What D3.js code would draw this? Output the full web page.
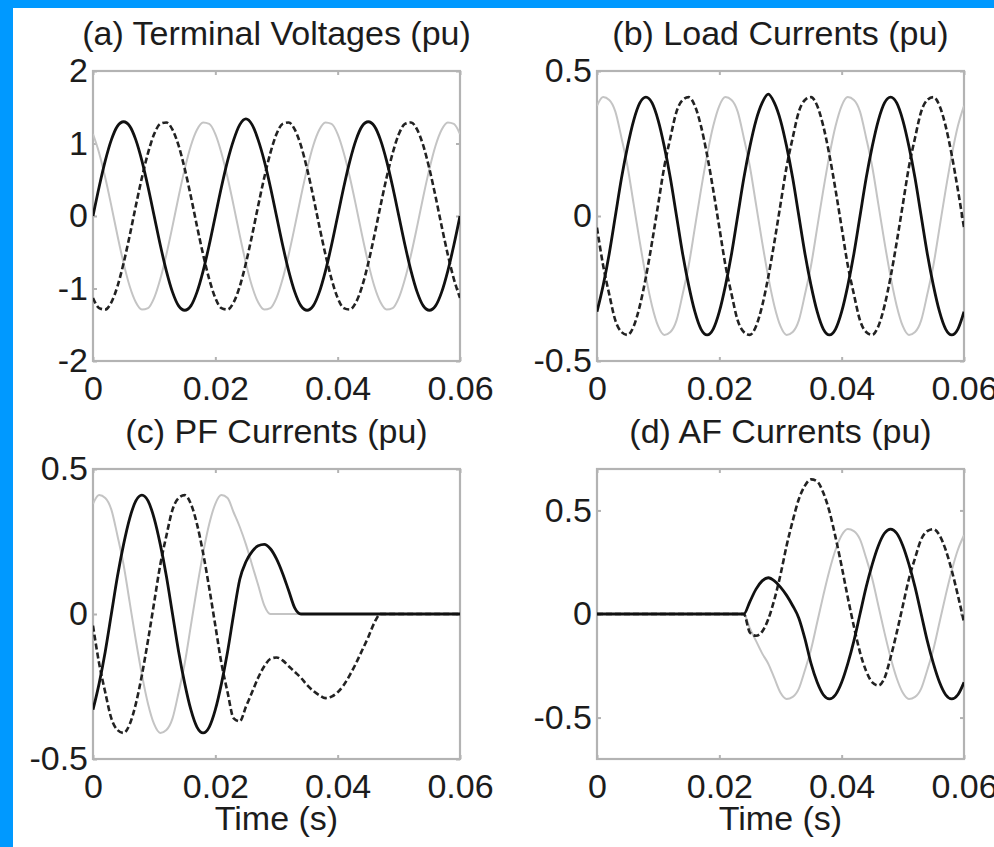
<!DOCTYPE html>
<html>
<head>
<meta charset="utf-8">
<script src="https://cdn.jsdelivr.net/npm/d3@7"></script>
<style>
  html, body { margin: 0; padding: 0; background: #0099ff; }
  svg { display: block; }
  text { font-family: "Liberation Sans", Arial, Helvetica, sans-serif; fill: #1c1c1c; }
</style>
</head>
<body>
<svg id="chart" width="994" height="847"></svg>
<script>
// ---------------- DATA ----------------
// sample times (s): 0 .. 0.06 every 1 ms
const time = d3.range(0, 61).map(i => i / 1000);

const xTicks = [0, 0.02, 0.04, 0.06];
const xTickLabels = ["0", "0.02", "0.04", "0.06"];

const titles = ["(a) Terminal Voltages (pu)", "(b) Load Currents (pu)", "(c) PF Currents (pu)", "(d) AF Currents (pu)"];
const xLabel = "Time (s)";

const yDomainA = [-2, 2];   const yTicksA = [-2, -1, 0, 1, 2];  const yTickLabelsA = ["-2", "-1", "0", "1", "2"];
const yDomainB = [-0.5, 0.5]; const yTicksB = [-0.5, 0, 0.5]; const yTickLabelsB = ["-0.5", "0", "0.5"];
const yDomainC = [-0.5, 0.5]; const yTicksC = [-0.5, 0, 0.5]; const yTickLabelsC = ["-0.5", "0", "0.5"];
const yDomainD = [-0.7, 0.7]; const yTicksD = [-0.5, 0, 0.5]; const yTickLabelsD = ["-0.5", "0", "0.5"];

// (a) terminal voltages
const voltSolid = [0,.40,.76,1.05,1.24,1.3,1.24,1.05,.76,.40,0,-.40,-.76,-1.05,-1.24,-1.3,-1.24,-1.05,-.76,-.40,
  0,.40,.76,1.05,1.26,1.34,1.26,1.05,.76,.40,0,-.40,-.76,-1.05,-1.24,-1.3,-1.24,-1.05,-.76,-.40,
  0,.40,.76,1.05,1.24,1.3,1.24,1.05,.76,.40,0,-.40,-.76,-1.05,-1.24,-1.3,-1.24,-1.05,-.76,-.40,0];
const voltDashed = [-1.13,-1.27,-1.29,-1.19,-.97,-.65,-.27,.14,.53,.87,1.13,1.27,1.29,1.19,.97,.65,.27,-.14,-.53,-.87,
  -1.13,-1.27,-1.29,-1.19,-.97,-.65,-.27,.14,.53,.87,1.13,1.27,1.29,1.19,.97,.65,.27,-.14,-.53,-.87,
  -1.13,-1.27,-1.29,-1.19,-.97,-.65,-.27,.14,.53,.87,1.13,1.27,1.29,1.19,.97,.65,.27,-.14,-.53,-.87,-1.13];
const voltGray = [1.13,.87,.53,.14,-.27,-.65,-.97,-1.19,-1.29,-1.27,-1.13,-.87,-.53,-.14,.27,.65,.97,1.19,1.29,1.27,
  1.13,.87,.53,.14,-.27,-.65,-.97,-1.19,-1.29,-1.27,-1.13,-.87,-.53,-.14,.27,.65,.97,1.19,1.29,1.27,
  1.13,.87,.53,.14,-.27,-.65,-.97,-1.19,-1.29,-1.27,-1.13,-.87,-.53,-.14,.27,.65,.97,1.19,1.29,1.27,1.13];

// (b) load currents
const loadSolid = [-.33,-.24,-.13,0,.13,.24,.33,.39,.41,.39,.33,.24,.13,0,-.13,-.24,-.33,-.39,-.41,-.39,
  -.33,-.24,-.13,0,.13,.24,.33,.39,.42,.39,.33,.24,.13,0,-.13,-.24,-.33,-.39,-.41,-.39,
  -.33,-.24,-.13,0,.13,.24,.33,.39,.41,.39,.33,.24,.13,0,-.13,-.24,-.33,-.39,-.41,-.39,-.33];
const loadDashed = [-.04,-.17,-.27,-.36,-.40,-.41,-.38,-.31,-.21,-.09,.04,.17,.27,.36,.40,.41,.38,.31,.21,.09,
  -.04,-.17,-.27,-.36,-.40,-.41,-.38,-.31,-.21,-.09,.04,.17,.27,.36,.40,.41,.38,.31,.21,.09,
  -.04,-.17,-.27,-.36,-.40,-.41,-.38,-.31,-.21,-.09,.04,.17,.27,.36,.40,.41,.38,.31,.21,.09,-.04];
const loadGray = [.38,.41,.40,.36,.27,.17,.04,-.09,-.21,-.31,-.38,-.41,-.40,-.36,-.27,-.17,-.04,.09,.21,.31,
  .38,.41,.40,.36,.27,.17,.04,-.09,-.21,-.31,-.38,-.41,-.40,-.36,-.27,-.17,-.04,.09,.21,.31,
  .38,.41,.40,.36,.27,.17,.04,-.09,-.21,-.31,-.38,-.41,-.40,-.36,-.27,-.17,-.04,.09,.21,.31,.38];

// (c) PF currents
const pfSolid = [-.33,-.24,-.13,0,.13,.24,.33,.39,.41,.39,.33,.24,.13,0,-.13,-.24,-.33,-.39,-.41,-.39,
  -.33,-.24,-.13,0,.12,.18,.215,.235,.24,.225,.19,.14,.08,.02,
  0,0,0,0,0,0,0,0,0,0,0,0,0,0,0,0,0,0,0,0,0,0,0,0,0,0,0];
const pfDashed = [-.04,-.17,-.27,-.36,-.40,-.41,-.38,-.31,-.21,-.09,.04,.17,.27,.36,.40,.41,.38,.31,.21,.09,
  -.04,-.17,-.27,-.36,-.37,-.32,-.27,-.22,-.18,-.155,-.15,-.16,-.18,-.20,-.22,-.245,-.265,-.28,-.29,-.285,
  -.27,-.245,-.21,-.17,-.125,-.08,-.03,0,
  0,0,0,0,0,0,0,0,0,0,0,0,0];
const pfGray = [.38,.41,.40,.36,.27,.17,.04,-.09,-.21,-.31,-.38,-.41,-.40,-.36,-.27,-.17,-.04,.09,.21,.31,
  .38,.41,.40,.35,.30,.24,.17,.10,.03,
  0,0,0,0,0,0,0,0,0,0,0,0,0,0,0,0,0,0,0,0,0,0,0,0,0,0,0,0,0,0,0,0];

// (d) AF currents
const afSolid = [0,0,0,0,0,0,0,0,0,0,0,0,0,0,0,0,0,0,0,0,0,0,0,0,0,
  .06,.12,.16,.175,.16,.13,.09,.04,-.02,-.12,-.24,-.33,-.39,-.41,-.39,-.33,-.24,-.13,0,.13,.24,.33,.39,.41,.39,
  .33,.24,.13,0,-.13,-.24,-.33,-.39,-.41,-.39,-.33];
const afDashed = [0,0,0,0,0,0,0,0,0,0,0,0,0,0,0,0,0,0,0,0,0,0,0,0,0,
  -.09,-.105,-.085,-.025,.07,.19,.33,.45,.555,.62,.65,.64,.585,.495,.37,.23,.08,-.06,-.185,-.275,-.33,-.345,-.31,-.21,-.09,
  .04,.17,.27,.36,.40,.41,.38,.31,.21,.09,-.04];
const afGray = [0,0,0,0,0,0,0,0,0,0,0,0,0,0,0,0,0,0,0,0,0,0,0,0,0,
  -.07,-.13,-.19,-.24,-.31,-.38,-.41,-.40,-.36,-.27,-.17,-.04,.09,.21,.31,.38,.41,.40,.36,.27,.17,.04,-.09,-.21,-.31,
  -.38,-.41,-.40,-.36,-.27,-.17,-.04,.09,.21,.31,.38];

// ---------------- DRAWING ----------------
const svg = d3.select("#chart");
svg.append("rect").attr("x", 13).attr("y", 8).attr("width", 994 - 13).attr("height", 847 - 8).attr("fill", "#ffffff");

const FONT = 34;
const boxW = 367, boxH = 290;
const panels = [
  { x: 93,  y: 71,  title: titles[0], yDomain: yDomainA, yTicks: yTicksA, yLabels: yTickLabelsA, series: [voltGray, voltDashed, voltSolid], xl: false },
  { x: 597, y: 71,  title: titles[1], yDomain: yDomainB, yTicks: yTicksB, yLabels: yTickLabelsB, series: [loadGray, loadDashed, loadSolid], xl: false },
  { x: 93,  y: 469, title: titles[2], yDomain: yDomainC, yTicks: yTicksC, yLabels: yTickLabelsC, series: [pfGray, pfDashed, pfSolid], xl: true },
  { x: 597, y: 469, title: titles[3], yDomain: yDomainD, yTicks: yTicksD, yLabels: yTickLabelsD, series: [afGray, afDashed, afSolid], xl: true }
];
const styles = [
  { stroke: "#c4c4c4", width: 2, dash: null },
  { stroke: "#222222", width: 2.6, dash: "6,3" },
  { stroke: "#111111", width: 2.8, dash: null }
];
const boxColor = "#b3b3b3";

panels.forEach(p => {
  const g = svg.append("g").attr("transform", `translate(${p.x},${p.y})`);
  const x = d3.scaleLinear().domain([0, 0.06]).range([0, boxW]);
  const y = d3.scaleLinear().domain(p.yDomain).range([boxH, 0]);

  // box
  g.append("rect").attr("width", boxW).attr("height", boxH)
    .attr("fill", "none").attr("stroke", boxColor).attr("stroke-width", 2.2);

  // axes with inward ticks
  const xb = d3.axisBottom(x).tickValues(xTicks).tickFormat((d, i) => xTickLabels[i]).tickSizeInner(-4).tickSizeOuter(0).tickPadding(15);
  const xt = d3.axisTop(x).tickValues(xTicks).tickFormat("").tickSizeInner(-4).tickSizeOuter(0);
  const yl = d3.axisLeft(y).tickValues(p.yTicks).tickFormat((d, i) => p.yLabels[i]).tickSizeInner(-4).tickSizeOuter(0).tickPadding(5);
  const yr = d3.axisRight(y).tickValues(p.yTicks).tickFormat("").tickSizeInner(-4).tickSizeOuter(0);

  const gxb = g.append("g").attr("transform", `translate(0,${boxH})`).call(xb);
  const gxt = g.append("g").call(xt);
  const gyl = g.append("g").call(yl);
  const gyr = g.append("g").attr("transform", `translate(${boxW},0)`).call(yr);
  [gxb, gxt, gyl, gyr].forEach(a => {
    a.select(".domain").remove();
    a.selectAll("line").attr("stroke", boxColor).attr("stroke-width", 2);
    a.selectAll("text").style("font-size", FONT + "px").attr("fill", "#1c1c1c");
  });
  gxb.selectAll("text").attr("dy", "0.71em");

  // lines
  const clipId = "clip" + p.x + "_" + p.y;
  g.append("clipPath").attr("id", clipId).append("rect").attr("width", boxW).attr("height", boxH);
  const line = d3.line().x((d, i) => x(time[i])).y(d => y(d)).curve(d3.curveMonotoneX);
  p.series.forEach((s, i) => {
    g.append("path").datum(s).attr("d", line)
      .attr("clip-path", `url(#${clipId})`)
      .attr("fill", "none").attr("stroke", styles[i].stroke)
      .attr("stroke-width", styles[i].width)
      .attr("stroke-dasharray", styles[i].dash)
      .attr("stroke-linejoin", "round");
  });

  // title
  g.append("text").attr("x", boxW / 2).attr("y", -26).attr("text-anchor", "middle")
    .style("font-size", FONT + "px").text(p.title);

  if (p.xl) {
    g.append("text").attr("x", boxW / 2).attr("y", boxH + 71).attr("text-anchor", "middle")
      .style("font-size", FONT + "px").text(xLabel);
  }
});
</script>
</body>
</html>
